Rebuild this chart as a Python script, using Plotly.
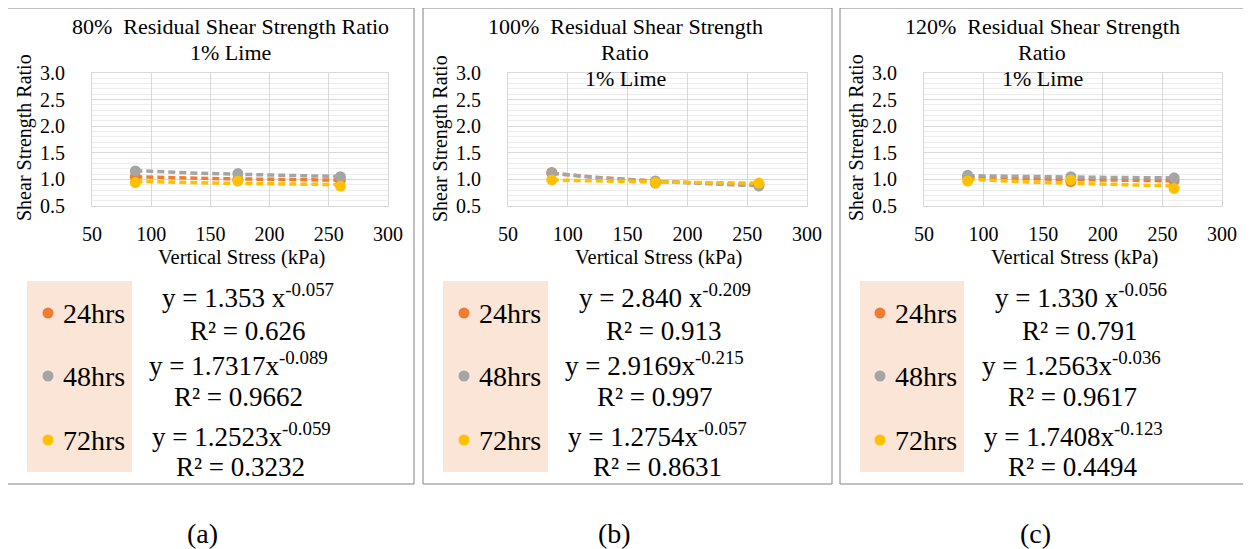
import numpy as np
import plotly.graph_objects as go

# ---------------- data ----------------
stress = [86.6, 173.2, 259.8]
series_names = ["24hrs", "48hrs", "72hrs"]

ratio_80 = {"24hrs": [1.05, 1.00, 0.99], "48hrs": [1.16, 1.11, 1.05], "72hrs": [0.94, 0.97, 0.875]}
ratio_100 = {"24hrs": [1.13, 0.93, 0.90], "48hrs": [1.12, 0.97, 0.875], "72hrs": [0.99, 0.94, 0.93]}
ratio_120 = {"24hrs": [1.04, 0.96, 0.98], "48hrs": [1.08, 1.05, 1.03], "72hrs": [0.97, 0.99, 0.83]}

# power trendline coefficients (a, b) for y = a x^b
fit_80 = {"24hrs": (1.353, -0.057), "48hrs": (1.7317, -0.089), "72hrs": (1.2523, -0.059)}
fit_100 = {"24hrs": (2.840, -0.209), "48hrs": (2.9169, -0.215), "72hrs": (1.2754, -0.057)}
fit_120 = {"24hrs": (1.330, -0.056), "48hrs": (1.2563, -0.036), "72hrs": (1.7408, -0.123)}

eq_80 = ["y = 1.353 x<sup>-0.057</sup>", "R² = 0.626", "y = 1.7317x<sup>-0.089</sup>", "R² = 0.9662",
         "y = 1.2523x<sup>-0.059</sup>", "R² = 0.3232"]
eq_100 = ["y = 2.840 x<sup>-0.209</sup>", "R² = 0.913", "y = 2.9169x<sup>-0.215</sup>", "R² = 0.997",
          "y = 1.2754x<sup>-0.057</sup>", "R² = 0.8631"]
eq_120 = ["y = 1.330 x<sup>-0.056</sup>", "R² = 0.791", "y = 1.2563x<sup>-0.036</sup>", "R² = 0.9617",
          "y = 1.7408x<sup>-0.123</sup>", "R² = 0.4494"]

titles = [["80%\u00a0 Residual Shear Strength Ratio", "1% Lime"],
          ["100%\u00a0 Residual Shear Strength", "Ratio", "1% Lime"],
          ["120%\u00a0 Residual Shear Strength", "Ratio", "1% Lime"]]
captions = ["(a)", "(b)", "(c)"]

x_ticks = [50, 100, 150, 200, 250, 300]
y_ticks = [0.5, 1.0, 1.5, 2.0, 2.5, 3.0]

colors = {"24hrs": "#ED7D31", "48hrs": "#A5A5A5", "72hrs": "#FFC000"}

# ---------------- layout geometry (pixels, in page coordinates) ----------------
W, H = 1251, 549
OFF = 8  # page body margin offset
FONT = "Liberation Serif"


def px(x):
    return (x - OFF) / W


def py(y):
    return 1 - (y - OFF) / H


panels = [
    dict(data=ratio_80, fit=fit_80, eq=eq_80, plot=(92, 388), box=(7, 414), leg=(27, 132), mk=48,
         eqx=[248, 248, 238, 238, 241, 240], tx=230, cap=202),
    dict(data=ratio_100, fit=fit_100, eq=eq_100, plot=(508, 807), box=(423, 832), leg=(443, 548), mk=464,
         eqx=[665, 664, 654, 655, 657, 657], tx=625, cap=614),
    dict(data=ratio_120, fit=fit_120, eq=eq_120, plot=(924, 1222), box=(840, 1245), leg=(860, 964), mk=880,
         eqx=[1081, 1080, 1071, 1072, 1073, 1073], tx=1042, cap=1035),
]
plot_top, plot_bot = 73, 206
eq_y = [296, 331, 364, 397, 435, 467]

fig = go.Figure()
shapes = []
annotations = []

for i, p in enumerate(panels):
    ax = "" if i == 0 else str(i + 1)
    xref, yref = "x" + ax, "y" + ax
    # trendlines
    for s in series_names:
        a, b = p["fit"][s]
        xs = np.linspace(min(stress), max(stress), 60)
        fig.add_trace(go.Scatter(x=xs, y=a * xs ** b, mode="lines", xaxis=xref, yaxis=yref,
                                 line=dict(color=colors[s], width=3.5, dash="7px,4px"),
                                 showlegend=False, hoverinfo="skip"))
    # points
    for s in series_names:
        fig.add_trace(go.Scatter(x=stress, y=p["data"][s], mode="markers", xaxis=xref, yaxis=yref,
                                 marker=dict(color=colors[s], size=11), name=s, showlegend=False))

    xl, xr = p["plot"]
    fig.layout["xaxis" + ax] = dict(
        domain=[px(xl), px(xr)], anchor=yref, range=[50, 300], tickvals=x_ticks,
        showgrid=True, gridcolor="#D9D9D9", gridwidth=1, zeroline=False,
        showline=True, linecolor="#D9D9D9", mirror=True, automargin=False,
        tickfont=dict(family=FONT, size=20, color="#000000"), ticks="", ticklabelstandoff=10,
        fixedrange=True)
    fig.layout["yaxis" + ax] = dict(
        domain=[py(plot_bot), py(plot_top)], anchor=xref, range=[0.5, 3.0], tickvals=y_ticks,
        tickformat=".1f", showgrid=True, gridcolor="#D9D9D9", gridwidth=1, zeroline=False,
        showline=True, linecolor="#D9D9D9", mirror=True, automargin=False,
        minor=dict(dtick=0.1, showgrid=True, gridcolor="#EEEEEE", gridwidth=1),
        tickfont=dict(family=FONT, size=20, color="#000000"), ticks="", ticklabelstandoff=22,
        fixedrange=True)

    # panel border
    bl, br = p["box"]
    shapes.append(dict(type="rect", xref="paper", yref="paper", x0=px(bl), x1=px(br), y0=py(484), y1=py(8),
                       line=dict(color="#808080", width=1), fillcolor="rgba(0,0,0,0)", layer="below"))
    # legend background
    ll, lr = p["leg"]
    shapes.append(dict(type="rect", xref="paper", yref="paper", x0=px(ll), x1=px(lr), y0=py(472), y1=py(281),
                       line=dict(width=0), fillcolor="#FBE5D6", layer="below"))
    # legend markers + labels
    for k, (s, yy) in enumerate(zip(series_names, [313, 376, 440])):
        r = 5.5
        shapes.append(dict(type="circle", xref="paper", yref="paper",
                           x0=px(p["mk"] - r), x1=px(p["mk"] + r), y0=py(yy + r), y1=py(yy - r),
                           fillcolor=colors[s], line=dict(width=0)))
        annotations.append(dict(xref="paper", yref="paper", x=px(p["mk"] + 13), y=py(yy), text=s,
                                xanchor="left", yanchor="middle", showarrow=False,
                                font=dict(family=FONT, size=28, color="#000000")))
    # equations
    for k, (txt, yy) in enumerate(zip(p["eq"], eq_y)):
        annotations.append(dict(xref="paper", yref="paper", x=px(p["eqx"][k]), y=py(yy), text=txt,
                                xanchor="center", yanchor="middle", showarrow=False,
                                font=dict(family=FONT, size=27, color="#000000")))
    # titles
    for k, line in enumerate(titles[i]):
        annotations.append(dict(xref="paper", yref="paper", x=px(p["tx"]), y=py(27 + 25.5 * k), text=line,
                                xanchor="center", yanchor="middle", showarrow=False,
                                font=dict(family=FONT, size=22, color="#000000")))
    # axis titles
    annotations.append(dict(xref="paper", yref="paper", x=px((xl + xr) / 2 + 1), y=py(257),
                            text="Vertical Stress (kPa)", xanchor="center", yanchor="middle",
                            showarrow=False, font=dict(family=FONT, size=20.5, color="#000000")))
    annotations.append(dict(xref="paper", yref="paper", x=px(xl - 67), y=py(138),
                            text="Shear Strength Ratio", textangle=-90, xanchor="center",
                            yanchor="middle", showarrow=False,
                            font=dict(family=FONT, size=20, color="#000000")))
    # caption
    annotations.append(dict(xref="paper", yref="paper", x=px(p["cap"]), y=py(533), text=captions[i],
                            xanchor="center", yanchor="middle", showarrow=False,
                            font=dict(family=FONT, size=28, color="#000000")))

fig.update_layout(width=W, height=H, margin=dict(l=0, r=0, t=0, b=0, pad=0, autoexpand=False),
                  paper_bgcolor="#FFFFFF", plot_bgcolor="#FFFFFF",
                  shapes=shapes, annotations=annotations, showlegend=False)

fig.write_html("out.html")
